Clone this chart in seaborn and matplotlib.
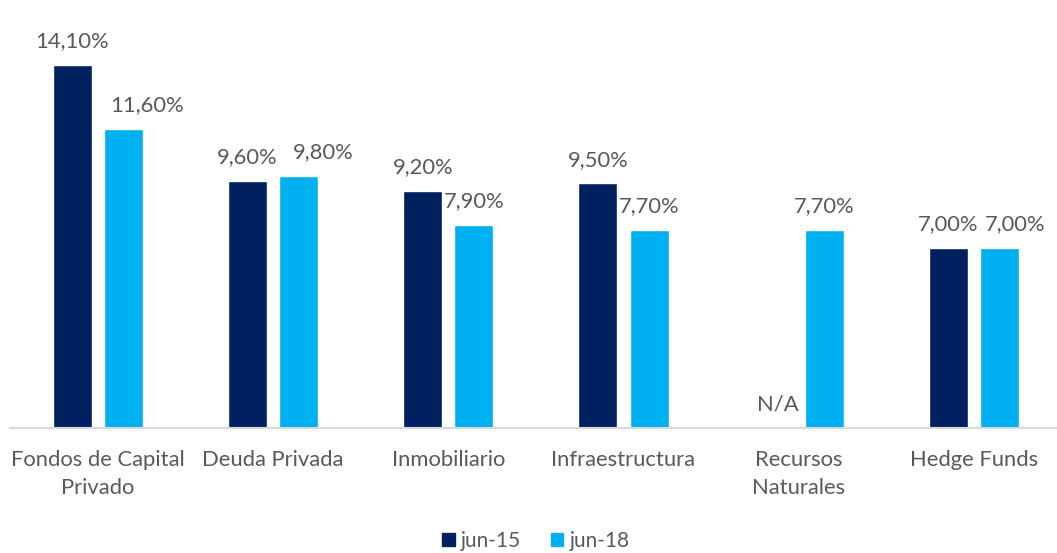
import numpy as np
import pandas as pd
import matplotlib
matplotlib.use("Agg")
import matplotlib.pyplot as plt
import seaborn as sns

# Expected returns by asset class
categories = ["Fondos de Capital\nPrivado", "Deuda Privada", "Inmobiliario",
              "Infraestructura", "Recursos\nNaturales", "Hedge Funds"]
series_names = ["jun-15", "jun-18"]
jun15 = [14.1, 9.6, 9.2, 9.5, np.nan, 7.0]
jun18 = [11.6, 9.8, 7.9, 7.7, 7.7, 7.0]
colors = ["#002060", "#00B0F0"]

df = pd.DataFrame({
    "categoria": categories * 2,
    "periodo": [series_names[0]] * len(categories) + [series_names[1]] * len(categories),
    "valor": jun15 + jun18,
})

sns.set_theme(style="white")
plt.rcParams["font.family"] = ["Lato", "DejaVu Sans"]
text_color = "#595959"
fs = 15.8

fig = plt.figure(figsize=(10.57, 5.53), dpi=100)
ax = fig.add_axes([10.4 / 1057, 125 / 553, 1051 / 1057, 428 / 553])

sns.barplot(data=df, x="categoria", y="valor", hue="periodo",
            order=categories, hue_order=series_names, palette=colors,
            width=0.585, gap=0.24, saturation=1, legend=False, ax=ax,
            errorbar=None)

def pct(v):
    return f"{v:.2f}%".replace(".", ",")

# horizontal nudges (points) so neighbouring labels don't collide
nudge = {(0, 1): 16.6, (1, 1): 17.3, (5, 1): 11.5}

hue_offset = 0.585 / 4
for s_idx, vals in enumerate([jun15, jun18]):
    for c_idx, v in enumerate(vals):
        x = c_idx + (2 * s_idx - 1) * hue_offset
        if np.isnan(v):
            ax.annotate("N/A", xy=(x, 0), xytext=(3.6, 12.5), textcoords="offset points",
                        ha="center", va="baseline", fontsize=fs, color=text_color)
            continue
        ax.annotate(pct(v), xy=(x, v), xytext=(nudge.get((c_idx, s_idx), 0), 12.8),
                    textcoords="offset points", ha="center", va="baseline",
                    fontsize=fs, color=text_color)

ax.set_ylim(0, 428 / 25.75)
ax.set_xlim(-0.5, len(categories) - 0.5)
ax.set_xlabel("")
ax.set_ylabel("")
ax.set_yticks([])
for s in ["top", "left", "right"]:
    ax.spines[s].set_visible(False)
ax.spines["bottom"].set_color("#D9D9D9")
ax.spines["bottom"].set_linewidth(1.5)
ax.tick_params(axis="x", length=0, pad=16, labelsize=fs, labelcolor=text_color)
for lbl in ax.get_xticklabels():
    lbl.set_linespacing(1.5)

handles = [plt.Rectangle((0, 0), 1, 1, color=c) for c in colors]
fig.legend(handles, series_names, loc="lower center", bbox_to_anchor=(0.507, -0.03),
           ncol=2, frameon=False, fontsize=15, labelcolor=text_color,
           handlelength=0.62, handleheight=0.62, handletextpad=0.3, columnspacing=1.4)

fig.savefig("out.png", dpi=100)
